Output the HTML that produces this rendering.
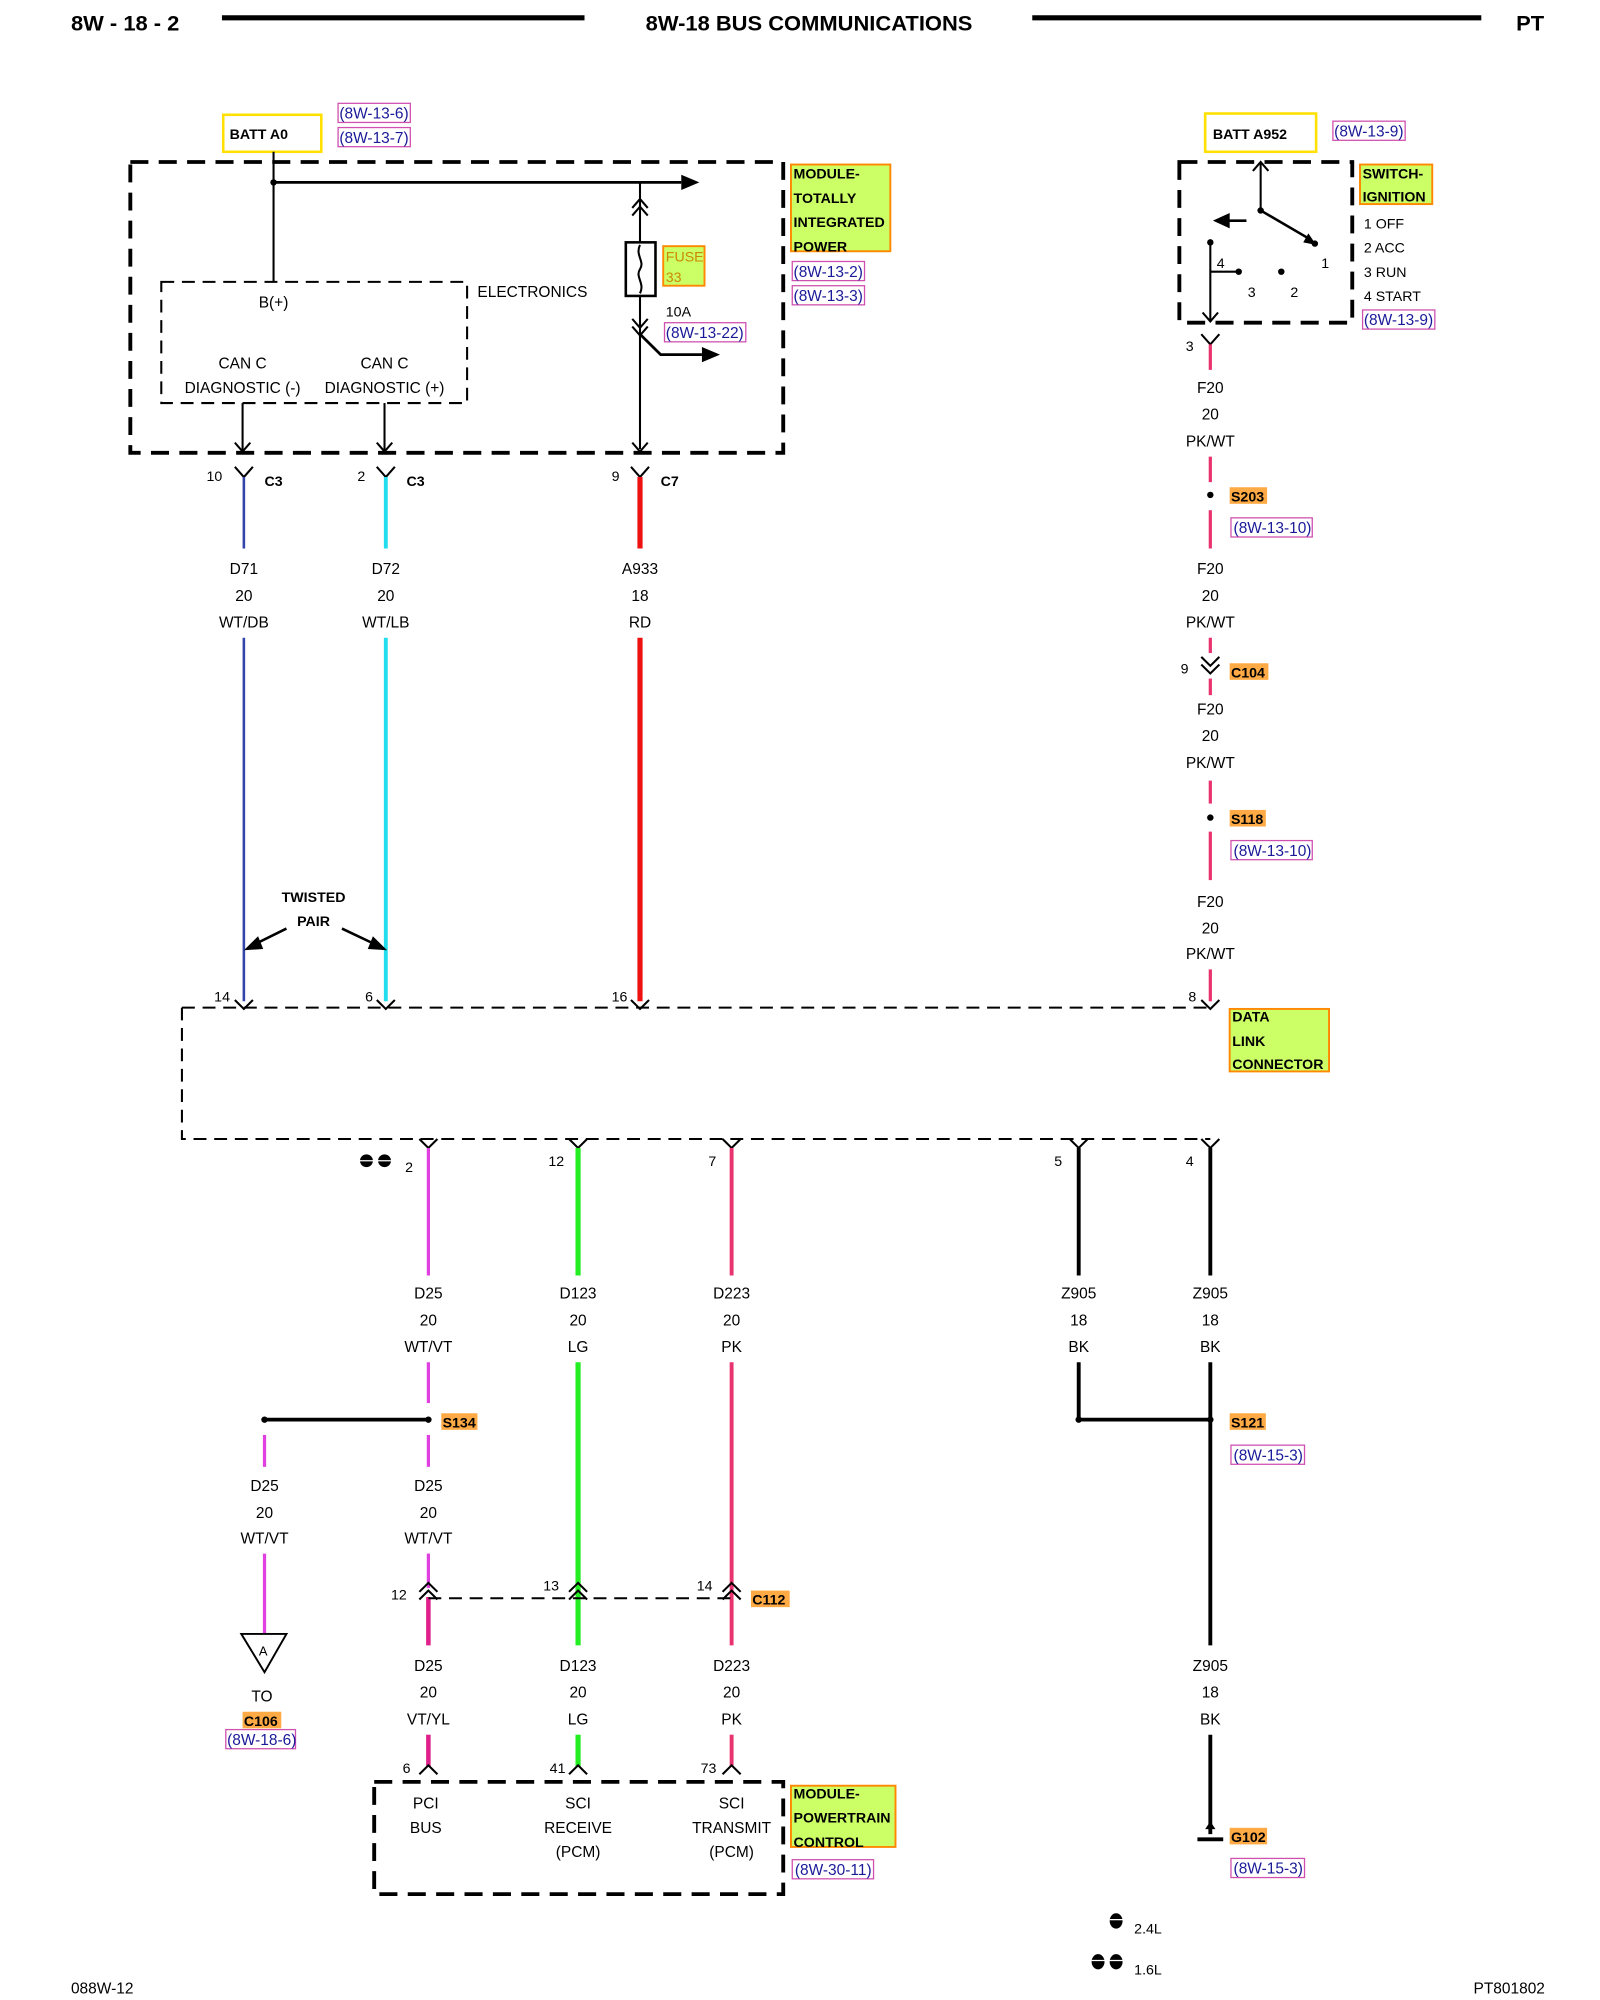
<!DOCTYPE html>
<html><head><meta charset="utf-8"><style>
html,body{margin:0;padding:0;background:#fff;}
svg{display:block;}
text{font-family:"Liberation Sans",sans-serif;font-size:12px;fill:#000;}
.b{font-weight:bold;}
.c{text-anchor:middle;}
.ref{fill:#1a1a99;font-size:12px;}
.d{stroke:#000;stroke-width:3;fill:none;stroke-dasharray:14,8;}
.d2{stroke:#000;stroke-width:1.6;fill:none;stroke-dasharray:10,6;}
.k{stroke:#000;stroke-width:1.6;fill:none;}
</style></head><body>
<svg width="1600" height="2000" viewBox="0 0 1240 1568" preserveAspectRatio="none" xmlns="http://www.w3.org/2000/svg">
<rect width="1240" height="1568" fill="#fff"/>
<!-- header -->
<text x="55" y="24" class="b" style="font-size:17px">8W - 18 - 2</text>
<line x1="172" y1="14" x2="453" y2="14" stroke="#000" stroke-width="4"/>
<text x="627" y="24" class="b c" style="font-size:17px">8W-18 BUS COMMUNICATIONS</text>
<line x1="800" y1="14" x2="1148" y2="14" stroke="#000" stroke-width="4"/>
<text x="1175" y="24" class="b" style="font-size:17px">PT</text>

<!-- top left module -->
<rect x="173" y="90" width="76" height="29" fill="none" stroke="#ffe000" stroke-width="2"/>
<text x="178" y="109" class="b" style="font-size:11px">BATT A0</text>
<rect x="262" y="81" width="56" height="15" fill="none" stroke="#d050b0" stroke-width="1"/>
<text x="263" y="93" class="ref">(8W-13-6)</text>
<rect x="262" y="100" width="56" height="15" fill="none" stroke="#d050b0" stroke-width="1"/>
<text x="263" y="112" class="ref">(8W-13-7)</text>
<rect x="101" y="127" width="506" height="228" class="d"/>
<line x1="212" y1="119" x2="212" y2="221" class="k"/>
<circle cx="212" cy="143" r="2.5"/>
<line x1="212" y1="143" x2="528" y2="143" stroke="#000" stroke-width="2.2"/>
<polygon points="528,137 542,143 528,149"/>
<line x1="496" y1="143" x2="496" y2="352" class="k"/>
<polyline points="490,163 496,156 502,163" class="k"/><polyline points="490,169 496,162 502,169" class="k"/>
<rect x="485" y="190" width="23" height="42" fill="#fff" stroke="#000" stroke-width="2"/>
<path d="M496,192 C492,200 500,205 496,211 C492,217 500,222 496,230" class="k"/>
<polyline points="490,250 496,257 502,250" class="k"/><polyline points="490,256 496,263 502,256" class="k"/>
<polyline points="496,262 512,278 544,278" stroke="#000" stroke-width="2.2" fill="none"/>
<polygon points="544,272 558,278 544,284"/>
<rect x="514" y="193" width="32" height="31" fill="#ccff66" stroke="#ff8800" stroke-width="1.5"/>
<text x="516" y="205" style="fill:#cc8800;font-size:11px">FUSE</text>
<text x="516" y="221" style="fill:#cc8800;font-size:11px">33</text>
<text x="516" y="248" style="font-size:11px">10A</text>
<rect x="515" y="253" width="63" height="15" fill="none" stroke="#d050b0" stroke-width="1"/>
<text x="516" y="265" class="ref">(8W-13-22)</text>
<rect x="125" y="221" width="237" height="95" class="d2"/>
<text x="370" y="233">ELECTRONICS</text>
<text x="212" y="241" class="c">B(+)</text>
<text x="188" y="289" class="c">CAN C</text><text x="298" y="289" class="c">CAN C</text>
<text x="188" y="308" class="c">DIAGNOSTIC (-)</text><text x="298" y="308" class="c">DIAGNOSTIC (+)</text>
<line x1="188" y1="316" x2="188" y2="354" class="k"/><polyline points="182,347 188,354 194,347" class="k"/>
<line x1="298" y1="316" x2="298" y2="354" class="k"/><polyline points="292,347 298,354 304,347" class="k"/>
<polyline points="490,347 496,354 502,347" class="k"/>
<rect x="613" y="129" width="77" height="68" fill="#ccff66" stroke="#ff8800" stroke-width="1.5"/>
<text x="615" y="140" class="b" style="font-size:11px">MODULE-</text>
<text x="615" y="159" class="b" style="font-size:11px">TOTALLY</text>
<text x="615" y="178" class="b" style="font-size:11px">INTEGRATED</text>
<text x="615" y="197" class="b" style="font-size:11px">POWER</text>
<rect x="614" y="205" width="56" height="15" fill="none" stroke="#d050b0" stroke-width="1"/>
<text x="615" y="217" class="ref">(8W-13-2)</text>
<rect x="614" y="224" width="56" height="15" fill="none" stroke="#d050b0" stroke-width="1"/>
<text x="615" y="236" class="ref">(8W-13-3)</text>

<!-- connectors below module -->
<g class="k"><polyline points="182,366 189,374 196,366"/><polyline points="292,366 299,374 306,366"/><polyline points="489,366 496,374 503,366"/></g>
<text x="160" y="377" style="font-size:11px">10</text><text x="205" y="381" class="b" style="font-size:11px">C3</text>
<text x="277" y="377" style="font-size:11px">2</text><text x="315" y="381" class="b" style="font-size:11px">C3</text>
<text x="474" y="377" style="font-size:11px">9</text><text x="512" y="381" class="b" style="font-size:11px">C7</text>
<line x1="189" y1="374" x2="189" y2="430" stroke="#3344aa" stroke-width="2"/>
<line x1="189" y1="500" x2="189" y2="785" stroke="#3344aa" stroke-width="2"/>
<line x1="299" y1="374" x2="299" y2="430" stroke="#22ddee" stroke-width="3"/>
<line x1="299" y1="500" x2="299" y2="785" stroke="#22ddee" stroke-width="3"/>
<line x1="496" y1="374" x2="496" y2="430" stroke="#ee1111" stroke-width="4"/>
<line x1="496" y1="500" x2="496" y2="785" stroke="#ee1111" stroke-width="4"/>
<text x="189" y="450" class="c">D71</text><text x="189" y="471" class="c">20</text><text x="189" y="492" class="c">WT/DB</text>
<text x="299" y="450" class="c">D72</text><text x="299" y="471" class="c">20</text><text x="299" y="492" class="c">WT/LB</text>
<text x="496" y="450" class="c">A933</text><text x="496" y="471" class="c">18</text><text x="496" y="492" class="c">RD</text>
<text x="243" y="707" class="b c" style="font-size:11px">TWISTED</text>
<text x="243" y="726" class="b c" style="font-size:11px">PAIR</text>
<line x1="222" y1="728" x2="198" y2="740" stroke="#000" stroke-width="2"/><polygon points="189,745 200,734 204,744"/>
<line x1="265" y1="728" x2="290" y2="740" stroke="#000" stroke-width="2"/><polygon points="300,745 285,744 289,734"/>

<!-- ignition switch -->
<rect x="934" y="89" width="86" height="30" fill="none" stroke="#ffe000" stroke-width="2"/>
<text x="940" y="109" class="b" style="font-size:11px">BATT A952</text>
<rect x="1033" y="95" width="56" height="15" fill="none" stroke="#d050b0" stroke-width="1"/>
<text x="1034" y="107" class="ref">(8W-13-9)</text>
<rect x="914" y="127" width="134" height="126" class="d"/>
<line x1="977" y1="127" x2="977" y2="165" class="k"/><polyline points="971,134 977,127 983,134" class="k"/>
<line x1="977" y1="165" x2="1016" y2="188" stroke="#000" stroke-width="2"/><polygon points="1010,190 1020,192 1014,183"/>
<circle cx="977" cy="165" r="2.5"/><circle cx="1019" cy="191" r="2.5"/>
<line x1="952" y1="173" x2="966" y2="173" stroke="#000" stroke-width="2"/><polygon points="940,173 953,167 953,179"/>
<line x1="938" y1="190" x2="938" y2="252" class="k"/><circle cx="938" cy="190" r="2.5"/>
<polyline points="932,245 938,252 944,245" class="k"/>
<line x1="938" y1="213" x2="960" y2="213" class="k"/><circle cx="960" cy="213" r="2.5"/><circle cx="993" cy="213" r="2.5"/>
<text x="943" y="210" style="font-size:11px">4</text><text x="1024" y="210" style="font-size:11px">1</text>
<text x="967" y="233" style="font-size:11px">3</text><text x="1000" y="233" style="font-size:11px">2</text>
<rect x="1054" y="129" width="56" height="31" fill="#ccff66" stroke="#ff8800" stroke-width="1.5"/>
<text x="1056" y="140" class="b" style="font-size:11px">SWITCH-</text>
<text x="1056" y="158" class="b" style="font-size:11px">IGNITION</text>
<text x="1057" y="179" style="font-size:11px">1 OFF</text><text x="1057" y="198" style="font-size:11px">2 ACC</text>
<text x="1057" y="217" style="font-size:11px">3 RUN</text><text x="1057" y="236" style="font-size:11px">4 START</text>
<rect x="1056" y="243" width="56" height="15" fill="none" stroke="#d050b0" stroke-width="1"/>
<text x="1057" y="255" class="ref">(8W-13-9)</text>

<!-- right pink wire -->
<polyline points="931,262 938,270 945,262" class="k"/>
<text x="919" y="275" style="font-size:11px">3</text>
<g stroke="#e8336e" stroke-width="2.5">
<line x1="938" y1="270" x2="938" y2="290"/><line x1="938" y1="358" x2="938" y2="378"/>
<line x1="938" y1="400" x2="938" y2="430"/><line x1="938" y1="500" x2="938" y2="512"/>
<line x1="938" y1="532" x2="938" y2="545"/><line x1="938" y1="612" x2="938" y2="630"/>
<line x1="938" y1="652" x2="938" y2="690"/><line x1="938" y1="760" x2="938" y2="785"/>
</g>
<text x="938" y="308" class="c">F20</text><text x="938" y="329" class="c">20</text><text x="938" y="350" class="c">PK/WT</text>
<circle cx="938" cy="388" r="2.5"/>
<rect x="953" y="382" width="29" height="13" fill="#ffaa44"/><text x="954" y="393" class="b" style="font-size:11px">S203</text>
<rect x="954" y="406" width="63" height="15" fill="none" stroke="#d050b0" stroke-width="1"/><text x="956" y="418" class="ref">(8W-13-10)</text>
<text x="938" y="450" class="c">F20</text><text x="938" y="471" class="c">20</text><text x="938" y="492" class="c">PK/WT</text>
<polyline points="931,515 938,522 945,515" class="k"/><polyline points="931,521 938,528 945,521" class="k"/>
<text x="915" y="528" style="font-size:11px">9</text>
<rect x="953" y="520" width="30" height="13" fill="#ffaa44"/><text x="954" y="531" class="b" style="font-size:11px">C104</text>
<text x="938" y="560" class="c">F20</text><text x="938" y="581" class="c">20</text><text x="938" y="602" class="c">PK/WT</text>
<circle cx="938" cy="641" r="2.5"/>
<rect x="953" y="635" width="28" height="13" fill="#ffaa44"/><text x="954" y="646" class="b" style="font-size:11px">S118</text>
<rect x="954" y="659" width="63" height="15" fill="none" stroke="#d050b0" stroke-width="1"/><text x="956" y="671" class="ref">(8W-13-10)</text>
<text x="938" y="711" class="c">F20</text><text x="938" y="732" class="c">20</text><text x="938" y="752" class="c">PK/WT</text>

<!-- DLC -->
<g class="k"><polyline points="182,784 189,791 196,784"/><polyline points="292,784 299,791 306,784"/><polyline points="489,784 496,791 503,784"/><polyline points="931,784 938,791 945,784"/></g>
<text x="166" y="785" style="font-size:11px">14</text><text x="283" y="785" style="font-size:11px">6</text>
<text x="474" y="785" style="font-size:11px">16</text><text x="921" y="785" style="font-size:11px">8</text>
<path d="M141,790 H938 M141,790 V893 H938" class="d2"/>
<rect x="953" y="791" width="77" height="49" fill="#ccff66" stroke="#ff8800" stroke-width="1.5"/>
<text x="955" y="801" class="b" style="font-size:11px">DATA</text>
<text x="955" y="820" class="b" style="font-size:11px">LINK</text>
<text x="955" y="838" class="b" style="font-size:11px">CONNECTOR</text>
<g class="k"><polyline points="325,893 332,900 339,893"/><polyline points="441,893 448,900 455,893"/><polyline points="560,893 567,900 574,893"/><polyline points="829,893 836,900 843,893"/><polyline points="931,893 938,900 945,893"/></g>
<circle cx="284" cy="910" r="5"/><circle cx="298" cy="910" r="5"/>
<line x1="279" y1="910" x2="303" y2="910" stroke="#fff" stroke-width="1"/>
<text x="314" y="919" style="font-size:11px">2</text><text x="425" y="914" style="font-size:11px">12</text>
<text x="549" y="914" style="font-size:11px">7</text><text x="817" y="914" style="font-size:11px">5</text><text x="919" y="914" style="font-size:11px">4</text>

<!-- lower wires -->
<g stroke="#e040e0" stroke-width="2.5">
<line x1="332" y1="900" x2="332" y2="1000"/><line x1="332" y1="1068" x2="332" y2="1100"/>
<line x1="332" y1="1125" x2="332" y2="1150"/><line x1="332" y1="1218" x2="332" y2="1245"/>
<line x1="205" y1="1125" x2="205" y2="1150"/><line x1="205" y1="1218" x2="205" y2="1282"/>
</g>
<line x1="332" y1="1252" x2="332" y2="1290" stroke="#e0208a" stroke-width="3.5"/>
<line x1="332" y1="1360" x2="332" y2="1385" stroke="#e0208a" stroke-width="3.5"/>
<g stroke="#22ee22" stroke-width="4">
<line x1="448" y1="900" x2="448" y2="1000"/><line x1="448" y1="1068" x2="448" y2="1290"/><line x1="448" y1="1360" x2="448" y2="1385"/>
</g>
<g stroke="#e8336e" stroke-width="3">
<line x1="567" y1="900" x2="567" y2="1000"/><line x1="567" y1="1068" x2="567" y2="1290"/><line x1="567" y1="1360" x2="567" y2="1385"/>
</g>
<g stroke="#000" stroke-width="3">
<line x1="836" y1="900" x2="836" y2="1000"/><line x1="836" y1="1068" x2="836" y2="1112"/>
<line x1="938" y1="900" x2="938" y2="1000"/><line x1="938" y1="1068" x2="938" y2="1290"/><line x1="938" y1="1360" x2="938" y2="1438"/>
<line x1="836" y1="1113" x2="938" y2="1113"/><line x1="205" y1="1113" x2="332" y2="1113"/>
</g>
<circle cx="205" cy="1113" r="2.5"/><circle cx="332" cy="1113" r="2.5"/><circle cx="836" cy="1113" r="2.5"/><circle cx="938" cy="1113" r="2.5"/>
<text x="332" y="1018" class="c">D25</text><text x="332" y="1039" class="c">20</text><text x="332" y="1060" class="c">WT/VT</text>
<text x="448" y="1018" class="c">D123</text><text x="448" y="1039" class="c">20</text><text x="448" y="1060" class="c">LG</text>
<text x="567" y="1018" class="c">D223</text><text x="567" y="1039" class="c">20</text><text x="567" y="1060" class="c">PK</text>
<text x="836" y="1018" class="c">Z905</text><text x="836" y="1039" class="c">18</text><text x="836" y="1060" class="c">BK</text>
<text x="938" y="1018" class="c">Z905</text><text x="938" y="1039" class="c">18</text><text x="938" y="1060" class="c">BK</text>
<rect x="342" y="1108" width="28" height="13" fill="#ffaa44"/><text x="343" y="1119" class="b" style="font-size:11px">S134</text>
<rect x="953" y="1108" width="28" height="13" fill="#ffaa44"/><text x="954" y="1119" class="b" style="font-size:11px">S121</text>
<rect x="954" y="1133" width="57" height="15" fill="none" stroke="#d050b0" stroke-width="1"/><text x="956" y="1145" class="ref">(8W-15-3)</text>
<text x="205" y="1169" class="c">D25</text><text x="205" y="1190" class="c">20</text><text x="205" y="1210" class="c">WT/VT</text>
<text x="332" y="1169" class="c">D25</text><text x="332" y="1190" class="c">20</text><text x="332" y="1210" class="c">WT/VT</text>
<polygon points="187,1281 222,1281 205,1311" fill="#fff" stroke="#000" stroke-width="1.5"/>
<text x="204" y="1298" class="c" style="font-size:10px">A</text>
<text x="203" y="1334" class="c">TO</text>
<rect x="188" y="1342" width="30" height="13" fill="#ffaa44"/><text x="189" y="1353" class="b" style="font-size:11px">C106</text>
<rect x="175" y="1356" width="54" height="15" fill="none" stroke="#d050b0" stroke-width="1"/><text x="176" y="1368" class="ref">(8W-18-6)</text>
<!-- C112 -->
<line x1="332" y1="1253" x2="567" y2="1253" class="d2"/>
<g class="k"><polyline points="325,1248 332,1241 339,1248"/><polyline points="325,1254 332,1247 339,1254"/>
<polyline points="441,1248 448,1241 455,1248"/><polyline points="441,1254 448,1247 455,1254"/>
<polyline points="560,1248 567,1241 574,1248"/><polyline points="560,1254 567,1247 574,1254"/></g>
<text x="303" y="1254" style="font-size:11px">12</text><text x="421" y="1247" style="font-size:11px">13</text><text x="540" y="1247" style="font-size:11px">14</text>
<rect x="582" y="1247" width="30" height="13" fill="#ffaa44"/><text x="583" y="1258" class="b" style="font-size:11px">C112</text>
<text x="332" y="1310" class="c">D25</text><text x="332" y="1331" class="c">20</text><text x="332" y="1352" class="c">VT/YL</text>
<text x="448" y="1310" class="c">D123</text><text x="448" y="1331" class="c">20</text><text x="448" y="1352" class="c">LG</text>
<text x="567" y="1310" class="c">D223</text><text x="567" y="1331" class="c">20</text><text x="567" y="1352" class="c">PK</text>
<text x="938" y="1310" class="c">Z905</text><text x="938" y="1331" class="c">18</text><text x="938" y="1352" class="c">BK</text>
<!-- PCM -->
<g class="k"><polyline points="325,1391 332,1384 339,1391"/><polyline points="441,1391 448,1384 455,1391"/><polyline points="560,1391 567,1384 574,1391"/></g>
<text x="312" y="1390" style="font-size:11px">6</text><text x="426" y="1390" style="font-size:11px">41</text><text x="543" y="1390" style="font-size:11px">73</text>
<rect x="290" y="1397" width="317" height="88" class="d"/>
<text x="330" y="1418" class="c">PCI</text><text x="330" y="1437" class="c">BUS</text>
<text x="448" y="1418" class="c">SCI</text><text x="448" y="1437" class="c">RECEIVE</text><text x="448" y="1456" class="c">(PCM)</text>
<text x="567" y="1418" class="c">SCI</text><text x="567" y="1437" class="c">TRANSMIT</text><text x="567" y="1456" class="c">(PCM)</text>
<rect x="613" y="1400" width="81" height="48" fill="#ccff66" stroke="#ff8800" stroke-width="1.5"/>
<text x="615" y="1410" class="b" style="font-size:11px">MODULE-</text>
<text x="615" y="1429" class="b" style="font-size:11px">POWERTRAIN</text>
<text x="615" y="1448" class="b" style="font-size:11px">CONTROL</text>
<rect x="614" y="1458" width="63" height="15" fill="none" stroke="#d050b0" stroke-width="1"/><text x="616" y="1470" class="ref">(8W-30-11)</text>
<!-- G102 -->
<polygon points="934,1434 942,1434 938,1428"/>
<line x1="928" y1="1442" x2="948" y2="1442" stroke="#000" stroke-width="3"/>
<rect x="953" y="1433" width="29" height="13" fill="#ffaa44"/><text x="954" y="1444" class="b" style="font-size:11px">G102</text>
<rect x="954" y="1457" width="57" height="15" fill="none" stroke="#d050b0" stroke-width="1"/><text x="956" y="1469" class="ref">(8W-15-3)</text>
<!-- legend -->
<ellipse cx="865" cy="1506" rx="5" ry="6"/><line x1="860" y1="1505" x2="870" y2="1505" stroke="#fff"/>
<text x="879" y="1516" style="font-size:11px">2.4L</text>
<ellipse cx="851" cy="1538" rx="5" ry="6"/><ellipse cx="865" cy="1538" rx="5" ry="6"/><line x1="846" y1="1537" x2="870" y2="1537" stroke="#fff"/>
<text x="879" y="1548" style="font-size:11px">1.6L</text>
<text x="55" y="1563">088W-12</text>
<text x="1142" y="1563">PT801802</text>
</svg>
</body></html>
